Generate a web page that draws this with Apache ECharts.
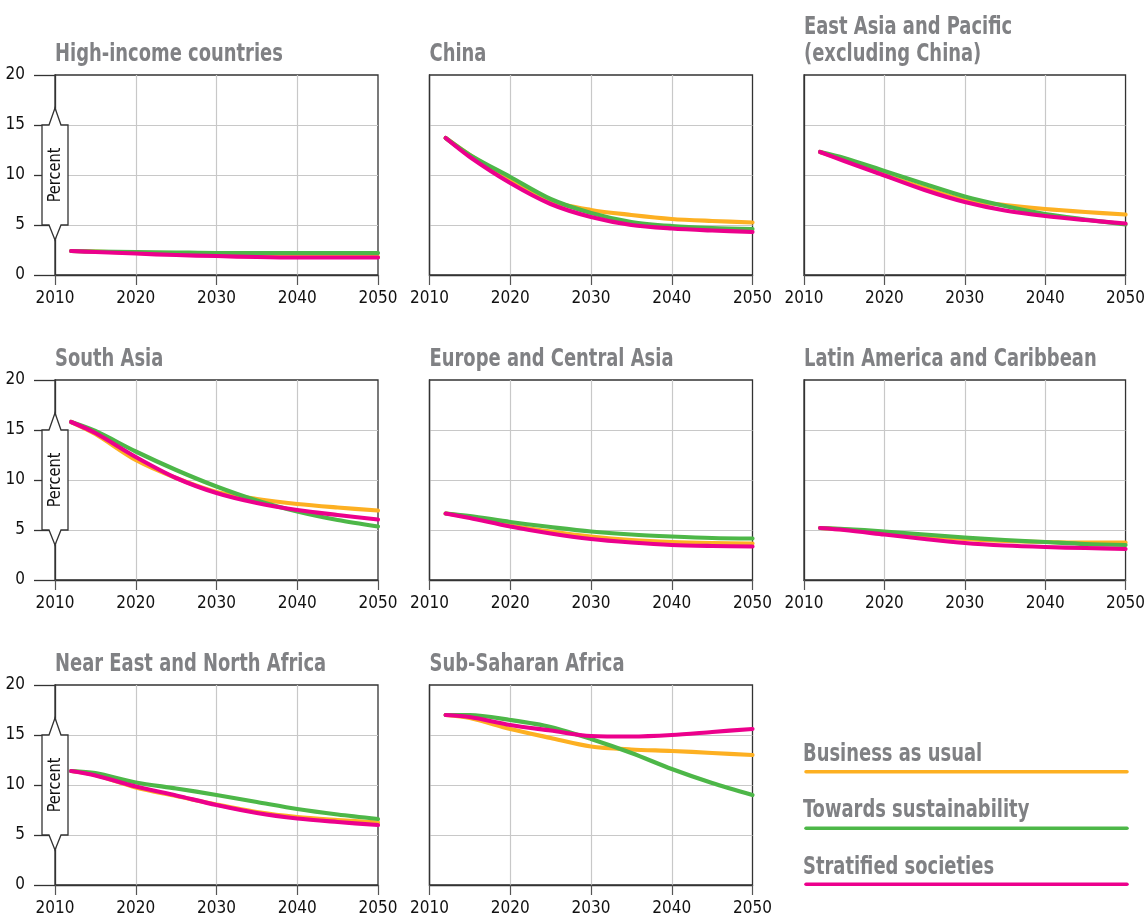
<!DOCTYPE html>
<html>
<head>
<meta charset="utf-8">
<script src="https://cdn.jsdelivr.net/npm/echarts@6/dist/echarts.min.js"></script>
<style>
    html, body { margin: 0; padding: 0; background: #fff; }
    #chart { width: 1148px; height: 918px; }
</style>
</head>
<body>
<div id="chart"></div>
<script>
// values (percent)
const years = [2012, 2015, 2020, 2025, 2030, 2035, 2040, 2045, 2050];
const yearTicks = [2010, 2020, 2030, 2040, 2050];
const percentTicks = [0, 5, 10, 15, 20];
const scenarios = ['Business as usual', 'Towards sustainability', 'Stratified societies'];
const regions = [
    'High-income countries',
    'China',
    'East Asia and Pacific\n(excluding China)',
    'South Asia',
    'Europe and Central Asia',
    'Latin America and Caribbean',
    'Near East and North Africa',
    'Sub-Saharan Africa',
];

const highIncomeBau = [2.4, 2.35, 2.2, 2.1, 2.0, 1.9, 1.85, 1.8, 1.8];
const highIncomeTs = [2.4, 2.35, 2.3, 2.25, 2.2, 2.2, 2.2, 2.2, 2.2];
const highIncomeSs = [2.4, 2.3, 2.15, 2.0, 1.9, 1.8, 1.75, 1.75, 1.75];

const chinaBau = [13.7, 12.0, 9.5, 7.4, 6.5, 6.0, 5.6, 5.4, 5.25];
const chinaTs = [13.7, 12.0, 9.8, 7.6, 6.2, 5.3, 4.9, 4.7, 4.6];
const chinaSs = [13.7, 11.8, 9.2, 7.1, 5.8, 5.0, 4.65, 4.45, 4.3];

const eastAsiaBau = [12.3, 11.5, 10.0, 8.7, 7.5, 7.0, 6.6, 6.3, 6.05];
const eastAsiaTs = [12.3, 11.7, 10.4, 9.1, 7.85, 6.9, 6.1, 5.55, 5.05];
const eastAsiaSs = [12.3, 11.4, 9.95, 8.5, 7.3, 6.45, 5.9, 5.5, 5.15];

const southAsiaBau = [15.8, 14.6, 12.0, 10.2, 8.8, 8.1, 7.6, 7.25, 6.95];
const southAsiaTs = [15.8, 14.9, 12.85, 11.0, 9.35, 7.95, 6.85, 6.0, 5.35];
const southAsiaSs = [15.8, 14.7, 12.3, 10.2, 8.7, 7.7, 7.0, 6.5, 6.05];

const europeBau = [6.65, 6.3, 5.45, 4.85, 4.35, 4.0, 3.8, 3.7, 3.65];
const europeTs = [6.65, 6.4, 5.8, 5.3, 4.85, 4.55, 4.35, 4.2, 4.15];
const europeSs = [6.65, 6.2, 5.35, 4.65, 4.1, 3.75, 3.5, 3.4, 3.35];

const latinBau = [5.2, 5.05, 4.75, 4.4, 4.1, 3.9, 3.8, 3.75, 3.75];
const latinTs = [5.2, 5.1, 4.85, 4.55, 4.25, 4.0, 3.8, 3.6, 3.5];
const latinSs = [5.2, 5.0, 4.55, 4.1, 3.7, 3.45, 3.3, 3.2, 3.1];

const nearEastBau = [11.4, 11.0, 9.75, 8.9, 8.05, 7.3, 6.8, 6.5, 6.25];
const nearEastTs = [11.4, 11.2, 10.25, 9.65, 9.0, 8.3, 7.6, 7.05, 6.6];
const nearEastSs = [11.4, 10.95, 9.85, 8.95, 8.0, 7.2, 6.65, 6.3, 6.0];

const subSaharanBau = [17.0, 16.7, 15.6, 14.7, 13.85, 13.55, 13.4, 13.2, 13.0];
const subSaharanTs = [17.0, 17.0, 16.5, 15.8, 14.6, 13.2, 11.6, 10.2, 9.0];
const subSaharanSs = [17.0, 16.8, 16.0, 15.45, 14.9, 14.85, 15.0, 15.3, 15.6];

const panelData = [
    [highIncomeBau, highIncomeTs, highIncomeSs],
    [chinaBau, chinaTs, chinaSs],
    [eastAsiaBau, eastAsiaTs, eastAsiaSs],
    [southAsiaBau, southAsiaTs, southAsiaSs],
    [europeBau, europeTs, europeSs],
    [latinBau, latinTs, latinSs],
    [nearEastBau, nearEastTs, nearEastSs],
    [subSaharanBau, subSaharanTs, subSaharanSs],
];

const colors = ['#FDB022', '#4DB748', '#EC008C'];
const FONT = '"DejaVu Sans Condensed", "Liberation Sans Narrow", sans-serif';
const titleGray = '#808184';
const dark = '#333333';
const squeeze = 0.83;   // narrow the bold headings to match the condensed face

const colLeft = [55, 429.5, 804];
const rowTop = [75, 380, 685];
const gridW = 323;
const gridH = 200;

function buildOption() {
    const grid = [];
    const xAxis = [];
    const yAxis = [];
    const series = [];

    regions.forEach((name, i) => {
        const col = i % 3;
        const row = Math.floor(i / 3);
        const first = col === 0;

        grid.push({
            left: colLeft[col], top: rowTop[row], width: gridW, height: gridH,
            show: true, borderColor: dark, borderWidth: 1.3, backgroundColor: 'transparent',
        });

        xAxis.push({
            type: 'value', gridIndex: i,
            min: yearTicks[0], max: yearTicks[yearTicks.length - 1],
            interval: yearTicks[1] - yearTicks[0],
            axisLine: {show: true, lineStyle: {color: dark, width: 1.3}},
            axisTick: {show: true, length: 10, lineStyle: {color: '#555', width: 1.2}},
            axisLabel: {
                margin: 15, color: '#111', fontSize: 17, fontFamily: FONT,
                formatter: (v) => String(v),
            },
            splitLine: {show: true, showMinLine: false, showMaxLine: false,
                lineStyle: {color: '#C8C8C8', width: 1.2}},
        });

        yAxis.push({
            type: 'value', gridIndex: i,
            min: percentTicks[0], max: percentTicks[percentTicks.length - 1],
            interval: percentTicks[1] - percentTicks[0],
            axisLine: {show: true, lineStyle: {color: dark, width: 1.3}},
            axisTick: {show: first, length: 21, lineStyle: {color: dark, width: 1.3}},
            axisLabel: {show: first, margin: 30, color: '#111', fontSize: 17, fontFamily: FONT},
            splitLine: {show: true, showMinLine: false, showMaxLine: false,
                lineStyle: {color: '#C8C8C8', width: 1.2}},
        });

        panelData[i].forEach((values, s) => {
            series.push({
                name: scenarios[s],
                type: 'line',
                xAxisIndex: i,
                yAxisIndex: i,
                data: years.map((yr, k) => [yr, values[k]]),
                showSymbol: false,
                smooth: 0.3,
                silent: true,
                z: 3 + s,
                lineStyle: {color: colors[s], width: 4.2, cap: 'round', join: 'round'},
                itemStyle: {color: colors[s]},
            });
        });
    });

    return {
        animation: false,
        backgroundColor: '#fff',
        grid,
        xAxis,
        yAxis,
        series,
    };
}

function headingText(text, x, baseline) {
    return {
        type: 'text', z: 50, x, y: baseline - 8.6, scaleX: squeeze,
        style: {text, fill: titleGray, font: 'bold 24px ' + FONT,
            align: 'left', verticalAlign: 'middle'},
    };
}

const chart = echarts.init(document.getElementById('chart'), null, {renderer: 'canvas'});
chart.setOption(buildOption());

const graphic = [];

// panel headings, sitting just above each plot frame
regions.forEach((name, i) => {
    const col = i % 3;
    const row = Math.floor(i / 3);
    const parts = name.split('\n');
    parts.forEach((part, k) => {
        const baseline = rowTop[row] - 12 - 27 * (parts.length - 1 - k);
        graphic.push(headingText(part, colLeft[col], baseline));
    });
});

// "Percent" bracket on the first column, placed with the chart's own scales
[0, 3, 6].forEach((g) => {
    const [ax, y15] = chart.convertToPixel({gridIndex: g}, [2010, 15]);
    const y10 = chart.convertToPixel({gridIndex: g}, [2010, 10])[1];
    const y5 = chart.convertToPixel({gridIndex: g}, [2010, 5])[1];
    graphic.push({
        type: 'polygon', z: 50,
        shape: {points: [
            [ax - 13, y15], [ax - 6, y15], [ax, y15 - 17], [ax + 6, y15], [ax + 13, y15],
            [ax + 13, y5], [ax + 6, y5], [ax, y5 + 15], [ax - 6, y5], [ax - 13, y5],
        ]},
        style: {fill: '#fff', stroke: dark, lineWidth: 1.3},
    });
    graphic.push({
        type: 'text', z: 51, x: ax, y: y10, rotation: Math.PI / 2, scaleX: 0.9,
        style: {text: 'Percent', fill: '#111', font: '18px ' + FONT,
            align: 'center', verticalAlign: 'middle'},
    });
});

// legend: bold label over a long coloured rule
const legendBaseline = [763, 819, 876];
const legendLineY = [771.7, 828.3, 884.3];
scenarios.forEach((name, s) => {
    graphic.push(headingText(name, 803, legendBaseline[s]));
    graphic.push({
        type: 'line', z: 50,
        shape: {x1: 806, y1: legendLineY[s], x2: 1127, y2: legendLineY[s]},
        style: {stroke: colors[s], lineWidth: 3.5, lineCap: 'round'},
    });
});

chart.setOption({graphic});
</script>
</body>
</html>
